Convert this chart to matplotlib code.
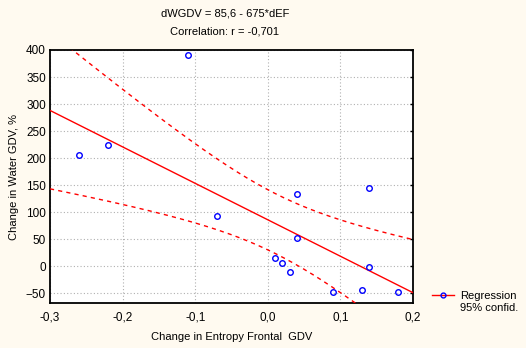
import numpy as np
import matplotlib
matplotlib.use("Agg")
import matplotlib.pyplot as plt
from matplotlib.lines import Line2D

# Data
x_vals = [-0.26, -0.22, -0.11, -0.07, 0.04, 0.04, 0.01, 0.02, 0.03, 0.09, 0.13, 0.14, 0.14, 0.18]
y_vals = [205, 224, 390, 92, 134, 52, 15, 5, -12, -49, -44, 144, -2, -48]
x_ticks = [-0.3, -0.2, -0.1, 0.0, 0.1, 0.2]
x_tick_labels = ["-0,3", "-0,2", "-0,1", "0,0", "0,1", "0,2"]
y_ticks = [-50, 0, 50, 100, 150, 200, 250, 300, 350, 400]
title1 = "dWGDV = 85,6 - 675*dEF"
title2 = "Correlation: r = -0,701"
intercept = 85.6
slope = -675.0

plt.rcParams['font.family'] = ['Liberation Sans', 'DejaVu Sans']

fig = plt.figure(figsize=(5.26, 3.48), dpi=100, facecolor='#fffaf0')
ax = fig.add_axes([50/526, 1-303/348, (413-50)/526, (303-50)/348])
ax.set_facecolor('white')

x = np.array(x_vals)
y = np.array(y_vals)
n = len(x)

# confidence band around the regression line
xs = np.linspace(-0.3, 0.2, 200)
yfit = intercept + slope * x
resid = y - yfit
s = np.sqrt(np.sum(resid**2) / (n - 2))
t = 2.179
sxx = np.sum((x - x.mean())**2)
hw = t * s * np.sqrt(1.0/n + (xs - x.mean())**2 / sxx)
yl = intercept + slope * xs

ax.plot(xs, yl, color='#ff0000', lw=1.0, zorder=3)
ax.plot(xs, yl + hw, color='#ff0000', lw=1.0, dashes=(3, 3), zorder=3)
ax.plot(xs, yl - hw, color='#ff0000', lw=1.0, dashes=(3, 3), zorder=3)
ax.plot(x, y, 'o', ms=4, mfc='none', mec='#0000ff', mew=1.0, zorder=4)

ax.set_xlim(-0.3, 0.2)
ax.set_ylim(-68.5, 400)
ax.set_xticks(x_ticks)
ax.set_xticklabels(x_tick_labels)
ax.set_yticks(y_ticks)
ax.grid(True, color='#b0b0b0', linestyle=(0, (1, 2)), lw=0.8)
ax.tick_params(direction='in', length=2, width=1, labelsize=8.5, pad=3,
               right=True, top=False, left=False, bottom=False, colors='black')
ax.tick_params(axis='x', pad=6)
for sp in ax.spines.values():
    sp.set_linewidth(1.3)
    sp.set_color('black')

ax.set_xlabel("Change in Entropy Frontal  GDV", fontsize=8, labelpad=6)
ax.set_ylabel("Change in Water GDV, %", fontsize=8, labelpad=5)

fig.text(225/526, 1-14/348, title1, ha='center', va='center', fontsize=8)
fig.text(225/526, 1-32/348, title2, ha='center', va='center', fontsize=8)

h = Line2D([], [], color='#ff0000', lw=1.0, marker='o', ms=3.5, mfc='none', mec='#0000ff', mew=1.0)
h2 = Line2D([], [], color='none', lw=0)
fig.legend([h, h2], ["Regression", "95% confid."], loc='upper left',
           bbox_to_anchor=(432/526, 1-291/348), frameon=False, fontsize=8,
           handlelength=2.0, handletextpad=0.5, borderaxespad=0, labelspacing=0.15,
           borderpad=0)

fig.savefig("out.png", dpi=100, facecolor=fig.get_facecolor())
